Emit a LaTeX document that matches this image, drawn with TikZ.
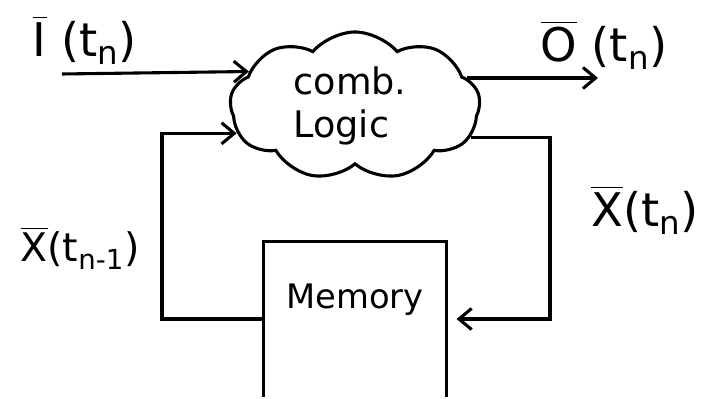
\documentclass[tikz,border=0pt]{standalone}
\usepackage{amsmath}
\usepackage{fontspec}
\setmainfont{DejaVu Sans}
\usetikzlibrary{shapes.symbols,arrows.meta}
% signal s pruhom a casom
\newcommand{\sig}[3]{$\overline{\text{#1}}\text{#3(t}_{\text{#2}}\text{)}$}
\begin{document}
\begin{tikzpicture}[x=0.025cm, y=-0.025cm, line width=2.2pt,
  flow/.style={-{Straight Barb[length=9pt,width=15pt]}},
  lbl/.style={font=\fontsize{33}{36}\selectfont}]
  \useasboundingbox (0,0) rectangle (706,399);

  % oblak - kombinacna logika
  \node[cloud, draw, cloud puffs=9, cloud puff arc=100, cloud ignores aspect,
        minimum width=6.25cm, minimum height=3.7cm] (logic) at (355,106) {};
  \node[font=\fontsize{26}{30}\selectfont, align=left] (logictext) at (350,106) {comb.\\Logic};

  % pamat
  \node[minimum width=4.5cm, minimum height=3.8cm] (mem) at (355,319) {};
  \draw (mem.south west) -- (mem.north west) -- (mem.north east) -- (mem.south east);
  \node[font=\fontsize{24}{28}\selectfont] (memtext) at (355,300) {Memory};

  % volne konce
  \coordinate (in) at (62,74);
  \coordinate (out) at (598,0);
  \coordinate (xr) at (550,0);
  \coordinate (xl) at (162,0);

  % sipky
  \draw[flow] (in) -- (logic.162);
  \draw[flow] (logic.14) -- (logic.14 -| out);
  \draw[flow, shorten >=0.25cm] (logic.-15) -- (logic.-15 -| xr) -- (xr |- mem.east) -- (mem.east);
  \draw[flow] (mem.west) -- (mem.west -| xl) -- (xl |- logic.193) -- (logic.193);

  % popisy
  \node[lbl] (ilabel) at (85,40) {\sig{I}{n}{ }};
  \node[lbl] (olabel) at (604,45) {\sig{O}{n}{ }};
  \node[font=\fontsize{28}{32}\selectfont] (xlabel) at (80,248) {\sig{X}{n-1}{}};
  \node[lbl] (xnlabel) at (645,210) {\sig{X}{n}{}};
\end{tikzpicture}
\end{document}
